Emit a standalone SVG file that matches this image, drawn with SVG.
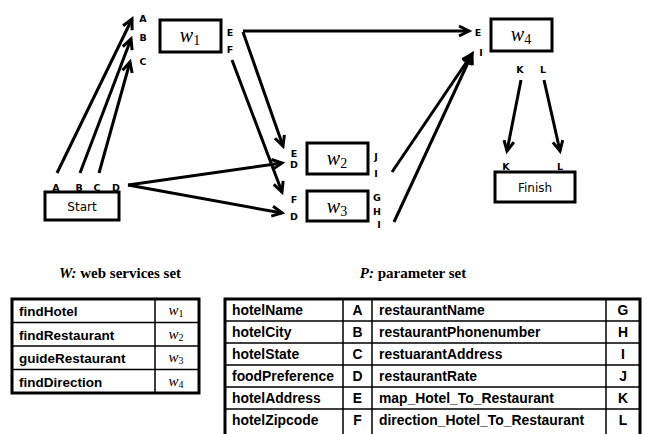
<svg xmlns="http://www.w3.org/2000/svg" width="647" height="434" viewBox="0 0 647 434">
<style>
.box{fill:#fff;stroke:#000;stroke-width:3}
.lbl{font-family:"DejaVu Sans",sans-serif;font-weight:bold;font-size:9.5px;text-anchor:middle}
.nm{font-family:"DejaVu Sans",sans-serif;font-size:12px;text-anchor:middle}
.w{font-family:"Liberation Serif",serif;font-style:italic;font-size:20px;text-anchor:middle}
.ws{font-style:normal;font-size:14px}
.conn line{stroke:#000;stroke-width:3;marker-end:url(#ah)}
.title{font-family:"Liberation Serif",serif;font-weight:bold;font-size:15px;text-anchor:middle}
.grid{fill:none;stroke:#000;stroke-width:1.5}
.outer{fill:none;stroke:#000;stroke-width:3}
.tt{font-family:"Liberation Sans",Arial,sans-serif;font-weight:bold;font-size:13.5px}
.tp{font-size:13.9px}
.tc{text-anchor:middle}
.tw{font-family:"Liberation Serif",serif;font-style:italic;font-size:15px;text-anchor:middle}
.tws{font-style:normal;font-size:10px}
</style>
<defs>
<marker id="ah" markerUnits="userSpaceOnUse" markerWidth="16" markerHeight="16" refX="11" refY="6" orient="auto" viewBox="0 0 16 12">
<path d="M1,1 L11,6 L1,11" fill="none" stroke="#000" stroke-width="3"/>
</marker>
</defs>
<rect width="647" height="434" fill="#fff"/>

<g id="connectors" class="conn">
<line x1="57" y1="173" x2="132" y2="19"/>
<line x1="80" y1="173" x2="131" y2="39"/>
<line x1="99" y1="173" x2="130" y2="62"/>
<line x1="128" y1="185" x2="282" y2="163"/>
<line x1="128" y1="185" x2="282" y2="213"/>
<line x1="243" y1="31" x2="469" y2="31"/>
<line x1="243" y1="32" x2="283" y2="146"/>
<line x1="232" y1="60" x2="282" y2="192"/>
<line x1="392" y1="172" x2="472" y2="54"/>
<line x1="394" y1="222" x2="472" y2="54"/>
<line x1="521" y1="80" x2="507" y2="151"/>
<line x1="544" y1="80" x2="560" y2="151"/>
</g>

<g id="start">
<rect class="box" x="45" y="192" width="74" height="28"/>
<text class="nm" x="82" y="210.5">Start</text>
<text class="lbl" x="56" y="190.5">A</text>
<text class="lbl" x="79" y="190.5">B</text>
<text class="lbl" x="97" y="190.5">C</text>
<text class="lbl" x="116" y="190.5">D</text>
</g>

<g id="w1">
<rect class="box" x="160" y="20" width="61" height="32"/>
<text class="w" x="190" y="42">w<tspan class="ws" dy="3">1</tspan></text>
<text class="lbl" x="143" y="21.5">A</text>
<text class="lbl" x="143" y="40.5">B</text>
<text class="lbl" x="143" y="64.5">C</text>
<text class="lbl" x="230" y="35.5">E</text>
<text class="lbl" x="230" y="52.5">F</text>
</g>

<g id="w2">
<rect class="box" x="307" y="143" width="61" height="31"/>
<text class="w" x="337" y="165">w<tspan class="ws" dy="3">2</tspan></text>
<text class="lbl" x="294" y="156.5">E</text>
<text class="lbl" x="294" y="167.5">D</text>
<text class="lbl" x="376" y="159.5">J</text>
<text class="lbl" x="376" y="176.5">I</text>
</g>

<g id="w3">
<rect class="box" x="307" y="191" width="61" height="30"/>
<text class="w" x="337" y="213">w<tspan class="ws" dy="3">3</tspan></text>
<text class="lbl" x="294" y="202.5">F</text>
<text class="lbl" x="294" y="219.5">D</text>
<text class="lbl" x="377" y="200.5">G</text>
<text class="lbl" x="377" y="214.5">H</text>
<text class="lbl" x="379" y="227.5">I</text>
</g>

<g id="w4">
<rect class="box" x="491" y="19" width="61" height="32"/>
<text class="w" x="521" y="41">w<tspan class="ws" dy="3">4</tspan></text>
<text class="lbl" x="478" y="35.5">E</text>
<text class="lbl" x="481" y="55.5">I</text>
<text class="lbl" x="520" y="72.5">K</text>
<text class="lbl" x="543" y="72.5">L</text>
</g>

<g id="finish">
<rect class="box" x="495" y="172" width="80" height="30"/>
<text class="nm" x="535" y="191.5">Finish</text>
<text class="lbl" x="506" y="169.5">K</text>
<text class="lbl" x="560" y="169.5">L</text>
</g>

<g id="tableW">
<text class="title" x="120" y="278"><tspan font-style="italic">W:</tspan> web services set</text>
<path class="grid" d="M12,322.5 H199 M12,346 H199 M12,369.5 H199 M155,299 V393"/>
<rect class="outer" x="12" y="299" width="187" height="94"/>
<text class="tt" x="19" y="316">findHotel</text>
<text class="tt" x="19" y="339.5">findRestaurant</text>
<text class="tt" x="19" y="363">guideRestaurant</text>
<text class="tt" x="19" y="386.5">findDirection</text>
<text class="tw" x="176" y="315">w<tspan class="tws" dy="2">1</tspan></text>
<text class="tw" x="176" y="338.5">w<tspan class="tws" dy="2">2</tspan></text>
<text class="tw" x="176" y="362">w<tspan class="tws" dy="2">3</tspan></text>
<text class="tw" x="176" y="385.5">w<tspan class="tws" dy="2">4</tspan></text>
</g>

<g id="tableP">
<text class="title" x="413" y="278"><tspan font-style="italic">P:</tspan> parameter set</text>
<path class="grid" d="M225,321 H640 M225,343 H640 M225,365 H640 M225,387 H640 M225,409 H640 M343,299 V434 M372,299 V434 M606,299 V434"/>
<path class="outer" d="M225,434 V299 H640 V434"/>
<text class="tt tp" x="232" y="315">hotelName</text>
<text class="tt tp" x="232" y="337">hotelCity</text>
<text class="tt tp" x="232" y="359">hotelState</text>
<text class="tt tp" x="232" y="381">foodPreference</text>
<text class="tt tp" x="232" y="403">hotelAddress</text>
<text class="tt tp" x="232" y="425">hotelZipcode</text>
<text class="tt tp tc" x="357.5" y="315">A</text>
<text class="tt tp tc" x="357.5" y="337">B</text>
<text class="tt tp tc" x="357.5" y="359">C</text>
<text class="tt tp tc" x="357.5" y="381">D</text>
<text class="tt tp tc" x="357.5" y="403">E</text>
<text class="tt tp tc" x="357.5" y="425">F</text>
<text class="tt tp" x="379" y="315">restaurantName</text>
<text class="tt tp" x="379" y="337">restaurantPhonenumber</text>
<text class="tt tp" x="379" y="359">restuarantAddress</text>
<text class="tt tp" x="379" y="381">restaurantRate</text>
<text class="tt tp" x="379" y="403">map_Hotel_To_Restaurant</text>
<text class="tt tp" x="379" y="425">direction_Hotel_To_Restaurant</text>
<text class="tt tp tc" x="623" y="315">G</text>
<text class="tt tp tc" x="623" y="337">H</text>
<text class="tt tp tc" x="623" y="359">I</text>
<text class="tt tp tc" x="623" y="381">J</text>
<text class="tt tp tc" x="623" y="403">K</text>
<text class="tt tp tc" x="623" y="425">L</text>
</g>
</svg>
